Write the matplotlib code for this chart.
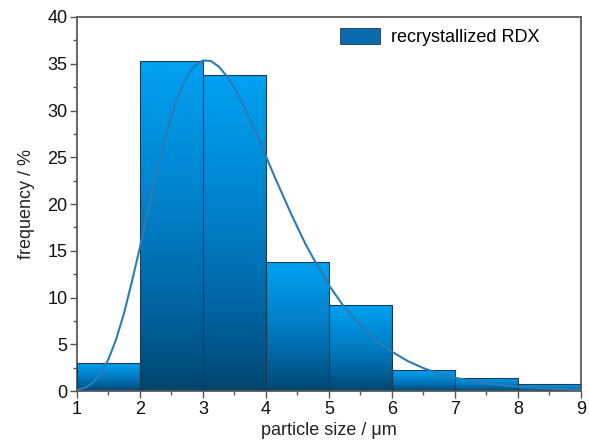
import numpy as np
import matplotlib
matplotlib.use("Agg")
import matplotlib.pyplot as plt
from matplotlib.colors import LinearSegmentedColormap
from matplotlib.patches import Patch
from matplotlib.ticker import MultipleLocator

plt.rcParams['font.family'] = ['Liberation Sans', 'DejaVu Sans']

# size distribution of recrystallized RDX
bin_edges = [1, 2, 3, 4, 5, 6, 7, 8, 9]
freq = [3.0, 35.3, 33.8, 13.8, 9.2, 2.2, 1.4, 0.7]

# fitted distribution curve
fit_x = [1.0, 1.125, 1.25, 1.375, 1.5, 1.625, 1.75, 1.875, 2.0, 2.125, 2.25,
         2.375, 2.5, 2.625, 2.75, 2.875, 3.0, 3.125, 3.25, 3.375, 3.5, 3.625,
         3.75, 3.875, 4.0, 4.125, 4.25, 4.375, 4.5, 4.625, 4.75, 5.0, 5.25,
         5.5, 5.75, 6.0, 6.25, 6.5, 6.75, 7.0, 7.5, 8.0, 8.5, 9.0]
fit_y = [0.11, 0.35, 0.87, 1.85, 3.4, 5.6, 8.4, 11.8, 15.4, 19.3, 23.0,
         26.5, 29.5, 31.9, 33.7, 34.8, 35.35, 35.3, 34.7, 33.7, 32.4, 30.8,
         29.0, 27.1, 25.1, 23.1, 21.2, 19.3, 17.5, 15.75, 14.2, 11.3, 8.9,
         7.0, 5.4, 4.2, 3.2, 2.45, 1.86, 1.41, 0.81, 0.46, 0.26, 0.15]

fig = plt.figure(figsize=(5.89, 4.45), dpi=100)
ax = fig.add_axes([0.1307, 0.1213, 0.8557, 0.8405])

grad = LinearSegmentedColormap.from_list(
    'bar', [(0.0, '#00436c'), (0.55, '#0079c0'), (1.0, '#00a2f2')])
g = np.linspace(0, 1, 256).reshape(-1, 1) ** 0.8

lefts = bin_edges[:-1]
widths = np.diff(bin_edges)
bars = ax.bar(lefts, freq, width=widths, align='edge', facecolor='none',
              edgecolor='#1d3b52', linewidth=0.8, zorder=3)
for b in bars:
    x0, y0 = b.get_x(), b.get_y()
    im = ax.imshow(g, cmap=grad, origin='lower', aspect='auto',
                   extent=[x0, x0 + b.get_width(), y0, y0 + b.get_height()],
                   zorder=2, interpolation='bilinear')
    im.set_clip_path(b)

ax.plot(fit_x, fit_y, color='#2a7cb8', linewidth=1.5, zorder=4)

ax.set_xlim(1, 9)
ax.set_ylim(0, 40)
ax.xaxis.set_major_locator(MultipleLocator(1))
ax.xaxis.set_minor_locator(MultipleLocator(0.5))
ax.yaxis.set_major_locator(MultipleLocator(5))
ax.yaxis.set_minor_locator(MultipleLocator(2.5))
ax.tick_params(which='both', direction='out', color='#555555', labelsize=13,
               labelcolor='#111111', pad=2)
ax.tick_params(which='major', length=5, width=1)
ax.tick_params(which='minor', length=3, width=1)
for s in ax.spines.values():
    s.set_color('#5a5a5a')
    s.set_linewidth(1.3)

ax.set_xlabel('particle size / μm', fontsize=13, labelpad=3, color='#222222')
ax.set_ylabel('frequency / %', fontsize=13, labelpad=9, color='#222222')

handle = Patch(facecolor='#0a6cae', edgecolor='#1d3b52', linewidth=0.6)
ax.legend([handle], ['recrystallized RDX'], loc='upper right', frameon=False,
          fontsize=13, handlelength=2.2, handleheight=1.0,
          bbox_to_anchor=(0.95, 1.015), handletextpad=0.6)

fig.savefig('out.png', dpi=100)
